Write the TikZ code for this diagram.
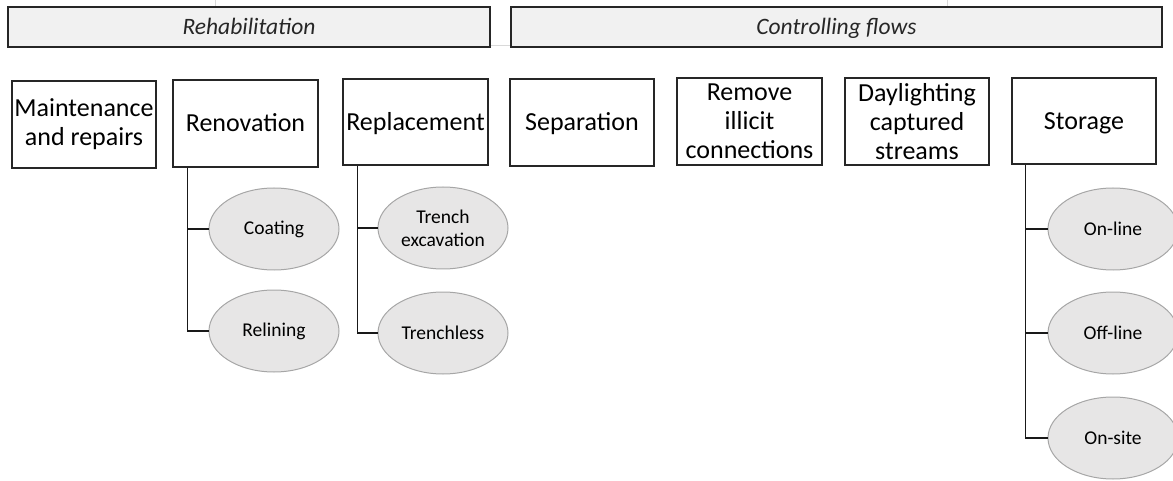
\documentclass[tikz,border=0pt]{standalone}
\usepackage{fontspec}
\setmainfont{Carlito}
\usetikzlibrary{shapes.geometric}
\definecolor{hdrfill}{HTML}{F1F1F1}
\definecolor{hdrdraw}{HTML}{262626}
\definecolor{elfill}{HTML}{E7E6E6}
\definecolor{eldraw}{HTML}{A6A6A6}
\definecolor{faint}{HTML}{D9D9D9}
\tikzset{
  hdr/.style={draw=hdrdraw, line width=1.6pt, fill=hdrfill, minimum height=40pt, inner sep=0pt,
    font=\fontsize{23.5}{27}\selectfont\itshape, text=hdrdraw, text height=18pt, text depth=3pt},
  topbox/.style={draw=black!85, line width=1.3pt, fill=white, minimum width=145pt, minimum height=87pt,
    inner sep=0pt, align=center, font=\fontsize{26}{29}\selectfont},
  oneline/.style={text height=20pt, text depth=3pt},
  subel/.style={ellipse, draw=eldraw, line width=1pt, fill=elfill, minimum width=130pt, minimum height=82pt,
    inner sep=0pt, align=center, font=\fontsize{19.5}{23}\selectfont},
  link/.style={draw=black!90, line width=1.5pt},
  faintline/.style={draw=faint, line width=1pt}
}
\begin{document}
\begin{tikzpicture}[x=1pt, y=-1pt]
\useasboundingbox (0,0) rectangle (1173,481);
% faint guide lines
\coordinate (fa1) at (215,0);
\coordinate (fa2) at (947,0);
\draw[faintline] (fa1) -- ++(0,7);
\draw[faintline] (fa2) -- ++(0,7);
% headers
\node[hdr, minimum width=482pt] (rehab) at (249,27) {Rehabilitation};
\node[hdr, minimum width=651pt] (ctrl) at (836.5,27) {Controlling flows};
\draw[faintline] ([yshift=2pt]rehab.south east) -- ([yshift=2pt]ctrl.south west);
% top boxes
\node[topbox, minimum width=144pt] (maint) at (84,124.5) {Maintenance\\and repairs};
\node[topbox, oneline] (renov) at (245.5,123.5) {Renovation};
\node[topbox, oneline, minimum height=86pt] (repl) at (415.5,122) {Replacement};
\node[topbox, oneline, minimum width=144pt] (sep) at (582,122.5) {Separation};
\node[topbox] (remove) at (749.5,121.5) {Remove\\illicit\\connections};
\node[topbox, minimum width=144pt] (day) at (917,121.5) {Daylighting\\captured\\streams};
\node[topbox, oneline, minimum width=144pt, minimum height=86pt] (stor) at (1084,121) {Storage};
% sub items
\node[subel] (coat) at (274,229) {Coating};
\node[subel] (relin) at (274,331) {Relining};
\node[subel] (trench) at (443,228) {Trench\\excavation};
\node[subel] (tless) at (443,333) {Trenchless};
\node[subel] (online) at (1113,229) {On-line};
\node[subel] (offline) at (1113,333) {Off-line};
\node[subel] (onsite) at (1113,438) {On-site};
% connectors
\coordinate (rv) at ([xshift=15pt]renov.south west);
\coordinate (pv) at ([xshift=15pt]repl.south west);
\coordinate (sv) at ([xshift=14pt]stor.south west);
\draw[link] (rv) |- (relin.west);
\draw[link] (coat.west) -- (coat.west -| rv);
\draw[link] (pv) |- (tless.west);
\draw[link] (trench.west) -- (trench.west -| pv);
\draw[link] (sv) |- (onsite.west);
\draw[link] (online.west) -- (online.west -| sv);
\draw[link] (offline.west) -- (offline.west -| sv);
\end{tikzpicture}
\end{document}
